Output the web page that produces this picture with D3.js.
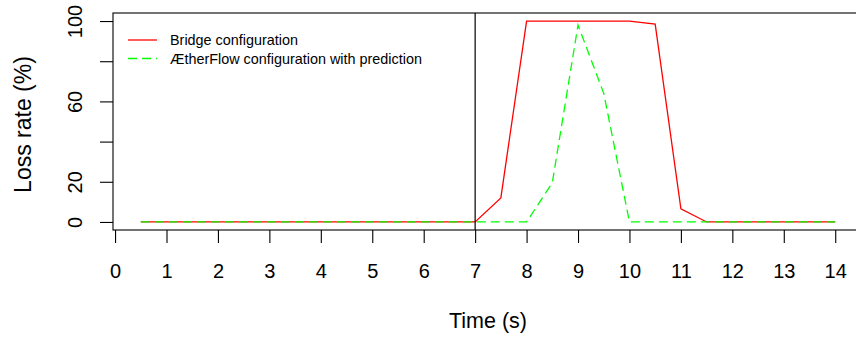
<!DOCTYPE html>
<html>
<head>
	<title>Loss rate over time</title>
	<script src="https://cdn.jsdelivr.net/npm/d3@7"></script>
	<style type="text/css">
	body { margin: 0; background: #fff; }
	svg { display: block; font-family: "Liberation Sans", Arial, Helvetica, sans-serif; }
	.axis text { font-size: 20px; fill: #000; }
	.axis line { stroke: #000; stroke-width: 1.1; }
	</style>
</head>
<body>
	<svg></svg>
<script>
// values (time step 0.5 s)
var timeS = [0.5, 1, 1.5, 2, 2.5, 3, 3.5, 4, 4.5, 5, 5.5, 6, 6.5, 7,
	7.5, 8, 8.5, 9, 9.5, 10, 10.5, 11, 11.5, 12, 12.5, 13, 13.5, 14];
var bridgeLoss = [0, 0, 0, 0, 0, 0, 0, 0, 0, 0, 0, 0, 0, 0,
	12, 100, 100, 100, 100, 100, 98.5, 6.5, 0, 0, 0, 0, 0, 0];
var aetherLoss = [0, 0, 0, 0, 0, 0, 0, 0, 0, 0, 0, 0, 0, 0,
	0, 0, 19.5, 98, 64, 0, 0, 0, 0, 0, 0, 0, 0, 0];
var xTicks = [0, 1, 2, 3, 4, 5, 6, 7, 8, 9, 10, 11, 12, 13, 14];
var yTicks = [0, 20, 40, 60, 80, 100];
var yLabels = [0, 20, 60, 100];   // R drops the ones that would overlap
var seriesNames = ["Bridge configuration", "ÆtherFlow configuration with prediction"];
var markerTime = 7;

var width = 856, height = 342;
var box = {left: 113, right: 863, top: 13, bottom: 230};

var svg = d3.select("svg")
	.attr("width", width)
	.attr("height", height);

// R style 4% padding around data range
var x = d3.scaleLinear().domain([-0.04, 14.54]).range([box.left, box.right]);
var y = d3.scaleLinear().domain([-4, 104]).range([box.bottom, box.top]);

var line = d3.line()
	.x(function(d) { return x(d[0]); })
	.y(function(d) { return y(d[1]); });

// bridge first, dashed green on top
svg.append("path")
	.datum(d3.zip(timeS, bridgeLoss))
	.attr("d", line)
	.attr("fill", "none")
	.attr("stroke", "#ff0000")
	.attr("stroke-width", 1.3);

svg.append("path")
	.datum(d3.zip(timeS, aetherLoss))
	.attr("d", line)
	.attr("fill", "none")
	.attr("stroke", "#00ff00")
	.attr("stroke-width", 1.3)
	.attr("stroke-dasharray", "9,5");

// vertical marker
svg.append("line")
	.attr("x1", x(markerTime)).attr("x2", x(markerTime))
	.attr("y1", box.top).attr("y2", box.bottom)
	.attr("stroke", "#000")
	.attr("stroke-width", 1.2);

// plot box
svg.append("rect")
	.attr("x", box.left).attr("y", box.top)
	.attr("width", box.right - box.left)
	.attr("height", box.bottom - box.top)
	.attr("fill", "none")
	.attr("stroke", "#000")
	.attr("stroke-width", 1.1);

// x axis
var xAxis = svg.append("g")
	.attr("class", "axis")
	.attr("transform", "translate(0," + box.bottom + ")")
	.call(d3.axisBottom(x).tickValues(xTicks).tickSize(13).tickFormat(d3.format("d")));
xAxis.select(".domain").remove();
xAxis.selectAll("text").attr("y", 48).attr("dy", null);

// y axis, labels turned like R's las=0
var yAxis = svg.append("g")
	.attr("class", "axis")
	.attr("transform", "translate(" + box.left + ",0)")
	.call(d3.axisLeft(y).tickValues(yTicks).tickSize(13)
		.tickFormat(function(d) { return yLabels.indexOf(d) >= 0 ? d : ""; }));
yAxis.select(".domain").remove();
yAxis.selectAll("text")
	.attr("x", null).attr("dy", null)
	.attr("text-anchor", "middle")
	.attr("transform", "translate(-31,0) rotate(-90)");

// axis titles
svg.append("text")
	.attr("x", (box.left + box.right) / 2)
	.attr("y", 328)
	.attr("text-anchor", "middle")
	.attr("font-size", 21.5)
	.text("Time (s)");

svg.append("text")
	.attr("transform", "translate(31," + ((box.top + box.bottom) / 2 + 3) + ") rotate(-90)")
	.attr("text-anchor", "middle")
	.attr("font-size", 23)
	.text("Loss rate (%)");

// legend, no frame
var legendColors = ["#ff0000", "#00ff00"];
var legendDash = [null, "9,5"];
var legend = svg.selectAll(".legend")
	.data(seriesNames)
	.enter()
	.append("g")
	.attr("class", "legend")
	.attr("transform", function(d, i) { return "translate(0," + (i * 18.5) + ")"; });

legend.append("line")
	.attr("x1", 128).attr("x2", 157)
	.attr("y1", 40).attr("y2", 40)
	.attr("stroke", function(d, i) { return legendColors[i]; })
	.attr("stroke-width", 1.3)
	.attr("stroke-dasharray", function(d, i) { return legendDash[i]; });

legend.append("text")
	.attr("x", 170)
	.attr("y", 45)
	.attr("font-size", 14.4)
	.text(function(d) { return d; });
</script>
</body>
</html>
